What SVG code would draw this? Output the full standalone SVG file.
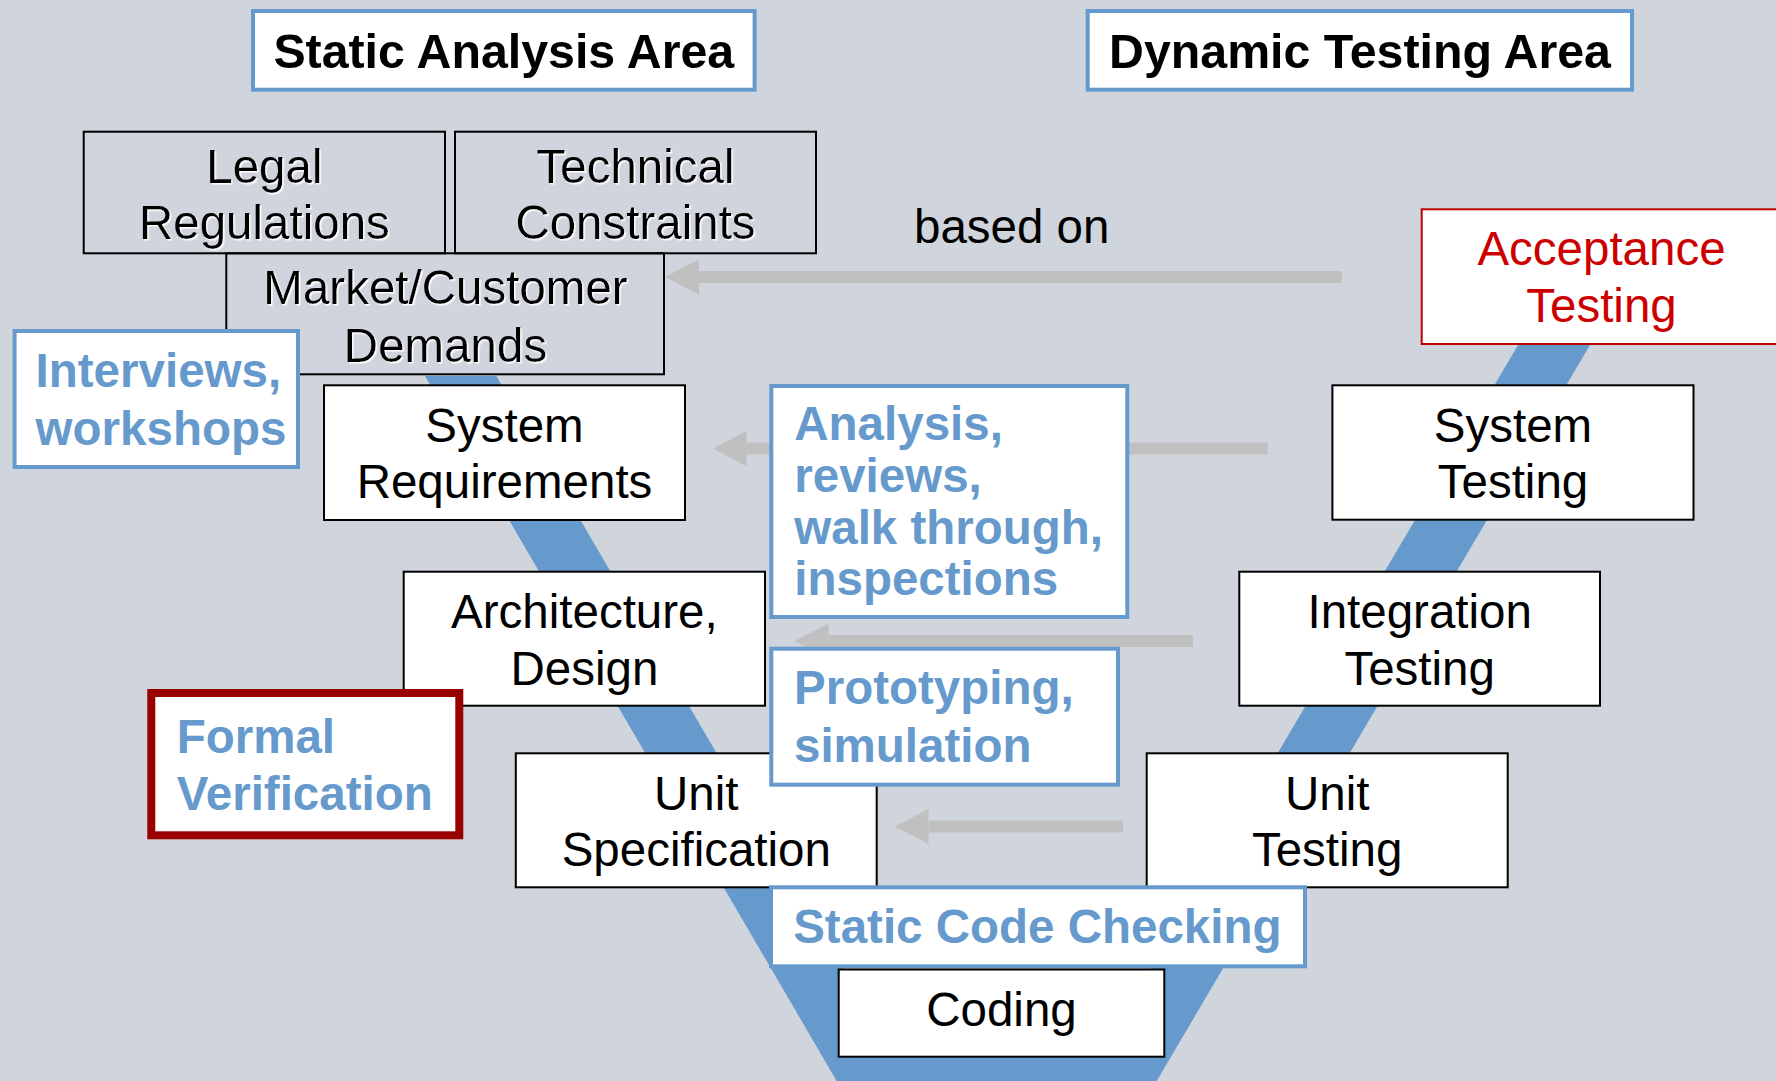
<svg xmlns="http://www.w3.org/2000/svg" width="1776" height="1081" viewBox="0 0 1776 1081">
  <defs>
    <style>
      text { font-family: "Liberation Sans", Arial, sans-serif; font-size: 47.5px; }
      .c { text-anchor: middle; fill: #000; }
      .b { font-weight: bold; font-size: 48.3px; }
      .lbl { font-weight: bold; fill: #6699CC; }
      .box { fill: #FFFFFF; stroke: #000; stroke-width: 2; }
      .obox { fill: none; stroke: #000; stroke-width: 2; }
      .bbox { fill: #FFFFFF; stroke: #6699CC; stroke-width: 4; }
      .conn { stroke: #C0C0C0; stroke-width: 12; fill: none; marker-end: url(#head); }
      .sh { filter: url(#shadow); }
    </style>
    <marker id="head" viewBox="0 0 34 35" markerWidth="34" markerHeight="35" markerUnits="userSpaceOnUse" refX="0" refY="17.5" orient="auto">
      <path d="M0,0 L34,17.5 L0,35 Z" fill="#C0C0C0"/>
    </marker>
    <filter id="shadow" x="-5%" y="-20%" width="110%" height="140%">
      <feDropShadow dx="1.5" dy="1.5" stdDeviation="0.4" flood-color="#FFFFFF" flood-opacity="1"/>
    </filter>
  </defs>

  <rect x="0" y="0" width="1776" height="1081" fill="#D0D4DC"/>

  <!-- V band -->
  <polygon id="v-band" points="425,376 836.7,1081 1156.7,1081 1616.5,300 1544.5,300 1126.5,1010 866.6,1010 496.3,376" fill="#6699CC"/>

  <!-- connectors -->
  <g id="connectors">
    <line class="conn" x1="1341.7" y1="277" x2="699" y2="277"/>
    <line class="conn" x1="1267.7" y1="448.5" x2="746.5" y2="448.5"/>
    <line class="conn" x1="1193" y1="641" x2="828.5" y2="641"/>
    <line class="conn" x1="1123" y1="826.5" x2="928.5" y2="826.5"/>
  </g>

  <g id="static-analysis-area">
    <rect class="bbox" x="253" y="11" width="501.6" height="78.7"/>
    <text class="c b" x="503.8" y="68">Static Analysis Area</text>
  </g>
  <g id="dynamic-testing-area">
    <rect class="bbox" x="1087.7" y="11" width="544.3" height="78.7"/>
    <text class="c b" x="1360" y="68">Dynamic Testing Area</text>
  </g>

  <g id="legal-regulations">
    <rect class="obox" x="83.7" y="131.7" width="361.3" height="121.6"/>
    <text class="c sh" x="264.4" y="182.7">Legal</text>
    <text class="c sh" x="264.4" y="239">Regulations</text>
  </g>
  <g id="technical-constraints">
    <rect class="obox" x="455" y="131.7" width="361" height="121.6"/>
    <text class="c sh" x="635.5" y="182.7">Technical</text>
    <text class="c sh" x="635.5" y="239">Constraints</text>
  </g>
  <g id="market-customer-demands">
    <rect class="obox" x="226.3" y="253.3" width="437.7" height="121"/>
    <text class="c sh" x="445.5" y="304.3">Market/Customer</text>
    <text class="c sh" x="445.5" y="361.7">Demands</text>
  </g>

  <g id="based-on-label">
    <text x="914" y="243" fill="#000">based on</text>
  </g>

  <g id="acceptance-testing">
    <rect x="1421.7" y="209.3" width="362" height="134.7" fill="#FFFFFF" stroke="#C00000" stroke-width="2"/>
    <text class="c" x="1601.5" y="265" style="fill:#CC0000">Acceptance</text>
    <text class="c" x="1601.5" y="321.7" style="fill:#CC0000">Testing</text>
  </g>

  <g id="system-requirements">
    <rect class="box" x="324" y="385.3" width="361" height="134.7"/>
    <text class="c" x="504.5" y="441.7">System</text>
    <text class="c" x="504.5" y="497.7">Requirements</text>
  </g>
  <g id="architecture-design">
    <rect class="box" x="403.7" y="571.7" width="361.3" height="134"/>
    <text class="c" x="584.4" y="627.5">Architecture,</text>
    <text class="c" x="584.4" y="684.5">Design</text>
  </g>
  <g id="unit-specification">
    <rect class="box" x="515.8" y="753.3" width="360.9" height="134"/>
    <text class="c" x="696.3" y="809.5">Unit</text>
    <text class="c" x="696.3" y="866">Specification</text>
  </g>
  <g id="system-testing">
    <rect class="box" x="1332.4" y="385.3" width="361.1" height="134.4"/>
    <text class="c" x="1513" y="441.7">System</text>
    <text class="c" x="1513" y="498">Testing</text>
  </g>
  <g id="integration-testing">
    <rect class="box" x="1239.3" y="571.7" width="360.7" height="134"/>
    <text class="c" x="1419.7" y="628.3">Integration</text>
    <text class="c" x="1419.7" y="685">Testing</text>
  </g>
  <g id="unit-testing">
    <rect class="box" x="1146.7" y="753.3" width="361" height="134"/>
    <text class="c" x="1327.2" y="809.5">Unit</text>
    <text class="c" x="1327.2" y="866">Testing</text>
  </g>

  <g id="interviews-workshops">
    <rect class="bbox" x="14.6" y="331" width="283.4" height="136"/>
    <text class="lbl" x="35.6" y="386.7">Interviews,</text>
    <text class="lbl" x="35.6" y="445">workshops</text>
  </g>
  <g id="analysis-reviews">
    <rect class="bbox" x="771.3" y="386" width="356" height="231"/>
    <text class="lbl" x="794.3" y="440">Analysis,</text>
    <text class="lbl" x="794.3" y="491.7">reviews,</text>
    <text class="lbl" x="794.3" y="544">walk through,</text>
    <text class="lbl" x="794.3" y="595">inspections</text>
  </g>
  <g id="prototyping-simulation">
    <rect class="bbox" x="771.3" y="648.7" width="346.7" height="136"/>
    <text class="lbl" x="794" y="703.5">Prototyping,</text>
    <text class="lbl" x="794" y="762">simulation</text>
  </g>
  <g id="formal-verification">
    <rect x="151.3" y="693" width="308" height="142.3" fill="#FFFFFF" stroke="#990000" stroke-width="8"/>
    <text class="lbl" x="176.7" y="752.7">Formal</text>
    <text class="lbl" x="176.7" y="810">Verification</text>
  </g>
  <g id="static-code-checking">
    <rect class="bbox" x="771" y="887.3" width="534" height="79"/>
    <text class="lbl" x="793.2" y="942.7">Static Code Checking</text>
  </g>
  <g id="coding">
    <rect class="box" x="838.7" y="969.5" width="325.6" height="87.2"/>
    <text class="c" x="1001.5" y="1026">Coding</text>
  </g>
</svg>
